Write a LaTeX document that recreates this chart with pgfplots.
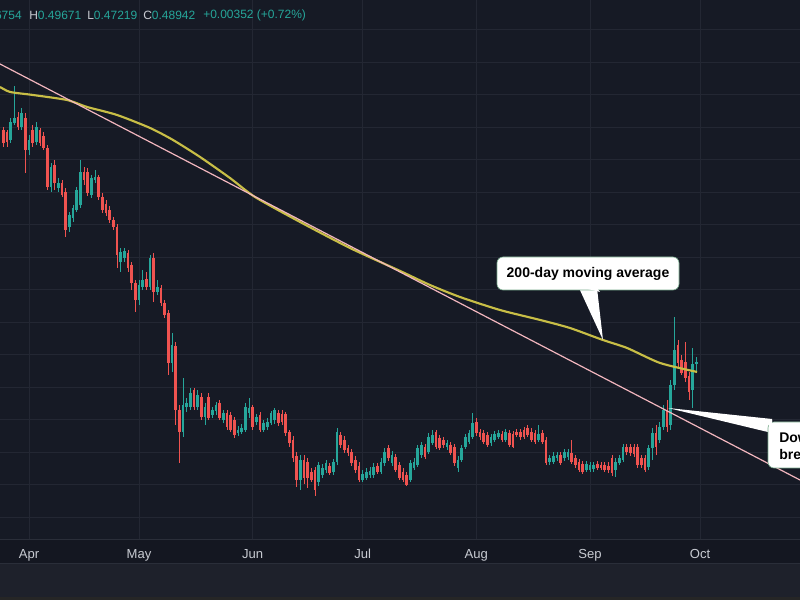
\documentclass[border=0pt]{standalone}
\usepackage{pgfplots}
\pgfplotsset{compat=1.18}
\usepackage{pgfplotstable}
\usepackage{fontspec}
\setmainfont{Liberation Sans}
\definecolor{bgc}{RGB}{22,26,37}
\definecolor{stripc}{RGB}{20,23,33}
\definecolor{panelc}{RGB}{30,33,43}
\definecolor{sepc}{RGB}{42,46,57}
\definecolor{gridc}{RGB}{35,39,51}
\definecolor{upc}{RGB}{38,166,154}
\definecolor{dnc}{RGB}{239,83,80}
\definecolor{mac}{RGB}{200,190,70}
\definecolor{trc}{RGB}{242,182,190}
\definecolor{labc}{RGB}{200,203,210}
\definecolor{calloutb}{RGB}{120,170,140}

\pgfplotstableread{
d o h l c
-7 .846 .851 .820 .826
-6 .843 .846 .820 .828
-5 .831 .865 .826 .858
-4 .857 .914 .854 .865
-3 .866 .874 .846 .851
-2 .851 .880 .846 .872
-1 .865 .872 .780 .815
0 .815 .838 .808 .831
1 .846 .854 .820 .826
2 .828 .858 .823 .851
3 .846 .849 .822 .826
4 .837 .843 .815 .818
5 .818 .823 .754 .758
6 .758 .795 .751 .789
7 .792 .800 .754 .765
8 .757 .772 .751 .765
9 .765 .769 .743 .746
10 .751 .757 .682 .692
11 .697 .720 .689 .715
12 .711 .731 .705 .726
13 .723 .758 .720 .754
14 .731 .800 .726 .782
15 .782 .789 .762 .769
16 .782 .788 .745 .749
17 .746 .777 .742 .772
18 .769 .785 .765 .774
19 .774 .777 .738 .743
20 .743 .749 .718 .723
21 .732 .738 .714 .718
22 .723 .729 .703 .708
23 .708 .712 .692 .697
24 .697 .702 .634 .654
25 .643 .665 .628 .658
26 .649 .665 .643 .660
27 .657 .662 .628 .634
28 .638 .643 .600 .611
29 .611 .615 .566 .585
30 .585 .615 .577 .608
31 .605 .631 .600 .615
32 .617 .628 .600 .605
33 .605 .654 .600 .649
34 .649 .657 .582 .597
35 .597 .615 .592 .605
36 .603 .608 .575 .580
37 .580 .585 .557 .562
38 .565 .569 .469 .488
39 .488 .534 .474 .515
40 .514 .520 .392 .415
41 .415 .423 .334 .382
42 .382 .465 .374 .423
43 .420 .434 .412 .426
44 .420 .449 .415 .442
45 .446 .449 .415 .420
46 .420 .446 .415 .438
47 .435 .442 .400 .405
48 .405 .426 .392 .420
49 .435 .442 .400 .403
50 .408 .420 .403 .415
51 .414 .428 .408 .423
52 .426 .431 .400 .403
53 .400 .415 .395 .411
54 .411 .415 .385 .389
55 .408 .412 .382 .385
56 .400 .405 .372 .377
57 .380 .391 .375 .385
58 .382 .394 .378 .388
59 .385 .426 .382 .420
60 .411 .434 .403 .418
61 .420 .423 .385 .389
62 .397 .409 .392 .405
63 .408 .412 .382 .385
64 .385 .400 .382 .395
65 .389 .403 .385 .397
66 .395 .414 .392 .411
67 .400 .418 .394 .415
68 .411 .415 .391 .395
69 .409 .415 .392 .397
70 .409 .412 .375 .380
71 .382 .385 .358 .365
72 .369 .375 .335 .342
73 .345 .351 .297 .308
74 .308 .346 .292 .338
75 .338 .346 .302 .311
76 .335 .342 .295 .311
77 .320 .326 .305 .308
78 .323 .328 .283 .292
79 .305 .335 .298 .331
80 .315 .332 .311 .326
81 .323 .338 .318 .334
82 .329 .334 .315 .318
83 .320 .340 .315 .335
84 .335 .388 .331 .382
85 .377 .382 .357 .362
86 .369 .375 .349 .354
87 .357 .362 .345 .349
88 .351 .355 .329 .334
89 .338 .345 .318 .323
90 .329 .335 .305 .308
91 .308 .323 .305 .317
92 .311 .326 .308 .320
93 .315 .328 .311 .322
94 .315 .334 .311 .328
95 .329 .334 .317 .320
96 .320 .342 .317 .335
97 .334 .357 .329 .351
98 .357 .362 .337 .342
99 .334 .352 .329 .346
100 .343 .348 .320 .323
101 .331 .335 .308 .311
102 .320 .326 .305 .308
103 .315 .320 .298 .300
104 .308 .338 .305 .334
105 .326 .342 .323 .335
106 .331 .362 .328 .357
107 .346 .366 .342 .362
108 .358 .363 .340 .343
109 .351 .380 .348 .374
110 .365 .385 .362 .377
111 .382 .385 .355 .358
112 .372 .377 .354 .357
113 .369 .374 .357 .362
114 .358 .369 .354 .365
115 .362 .366 .346 .349
116 .358 .363 .329 .334
117 .326 .345 .320 .338
118 .338 .362 .335 .357
119 .358 .378 .355 .374
120 .366 .385 .363 .380
121 .374 .411 .371 .395
122 .397 .403 .375 .380
123 .382 .386 .369 .374
124 .380 .385 .363 .366
125 .377 .382 .358 .362
126 .365 .378 .360 .374
127 .369 .383 .366 .378
128 .374 .385 .371 .380
129 .378 .383 .366 .369
130 .369 .386 .366 .382
131 .380 .385 .358 .362
132 .378 .383 .357 .358
133 .382 .386 .374 .377
134 .382 .386 .369 .374
135 .385 .389 .371 .374
136 .388 .392 .374 .377
137 .382 .388 .366 .369
138 .380 .385 .363 .366
139 .369 .392 .366 .378
140 .380 .385 .363 .366
141 .369 .374 .331 .334
142 .335 .346 .331 .342
143 .335 .351 .332 .345
144 .342 .351 .337 .346
145 .346 .351 .331 .334
146 .342 .355 .337 .351
147 .343 .355 .338 .351
148 .349 .369 .332 .335
149 .342 .346 .326 .331
150 .335 .340 .320 .323
151 .332 .337 .317 .320
152 .323 .337 .320 .332
153 .323 .335 .320 .331
154 .325 .335 .320 .331
155 .332 .337 .323 .326
156 .331 .335 .323 .326
157 .331 .335 .320 .323
158 .329 .335 .318 .323
159 .342 .346 .314 .318
160 .323 .342 .312 .335
161 .334 .346 .331 .342
162 .338 .363 .335 .358
163 .358 .363 .346 .351
164 .358 .363 .345 .349
165 .358 .363 .343 .348
166 .358 .363 .326 .331
167 .342 .346 .326 .331
168 .342 .346 .320 .323
169 .328 .362 .323 .357
170 .357 .388 .338 .380
171 .380 .392 .346 .358
172 .369 .397 .365 .389
173 .389 .423 .385 .415
174 .415 .431 .382 .389
175 .392 .462 .385 .454
176 .454 .558 .446 .508
177 .515 .523 .480 .488
178 .492 .500 .469 .472
179 .489 .520 .458 .465
180 .468 .474 .431 .443
181 .446 .511 .418 .486
182 .4859 .49671 .47219 .48942
}\candles

\begin{document}
\begin{tikzpicture}
\useasboundingbox (0,0) rectangle (600pt,450pt);
\clip (0,0) rectangle (600pt,450pt);
\fill[bgc] (0,0) rectangle (600pt,450pt);
\begin{scope}[x=0.75pt,y=-0.75pt,shift={(0,450pt)}]
  \fill[stripc] (0,539) rectangle (800,564);
  \draw[sepc, line width=0.75pt] (0,539.5) -- (800,539.5);
  \fill[panelc] (0,564) rectangle (800,597);
  \draw[sepc, line width=0.75pt] (0,564) -- (800,564);
  \fill[black!85] (0,597) rectangle (800,600);
\end{scope}
\begin{axis}[
  at={(0pt,45.75pt)}, anchor=south west, scale only axis,
  width=600pt, height=404.25pt,
  xmin=-7.909, xmax=210.27, ymin=0.21692, ymax=1.04615,
  axis line style={draw=none},
  xtick={0,30,61,91,122,153,183},
  xticklabels={Apr,May,Jun,Jul,Aug,Sep,Oct},
  ytick={0.25,0.30,...,1.01}, yticklabels={},
  major tick length=0pt,
  grid=major, grid style={gridc, line width=0.75pt},
  xticklabel style={font=\fontsize{9.8}{11}\selectfont, text=labc, anchor=base, yshift=-14.6pt},
]
% wicks
\addplot[draw=none, mark=none, forget plot, error bars/.cd, y dir=both, y explicit, error mark=none,
  error bar style={draw=upc, line width=0.6pt}]
  table[x=d, y expr={\thisrow{c}>=\thisrow{o} ? (\thisrow{h}+\thisrow{l})/2 : nan},
        y error expr={(\thisrow{h}-\thisrow{l})/2}] {\candles};
\addplot[draw=none, mark=none, forget plot, error bars/.cd, y dir=both, y explicit, error mark=none,
  error bar style={draw=dnc, line width=0.6pt}]
  table[x=d, y expr={\thisrow{c}<\thisrow{o} ? (\thisrow{h}+\thisrow{l})/2 : nan},
        y error expr={(\thisrow{h}-\thisrow{l})/2}] {\candles};
% bodies
\addplot[draw=none, mark=none, forget plot, error bars/.cd, y dir=both, y explicit, error mark=none,
  error bar style={draw=upc, line width=2.05pt}]
  table[x=d, y expr={\thisrow{c}>=\thisrow{o} ? (\thisrow{o}+\thisrow{c})/2 : nan},
        y error expr={max(abs(\thisrow{c}-\thisrow{o})/2,0.0008)}] {\candles};
\addplot[draw=none, mark=none, forget plot, error bars/.cd, y dir=both, y explicit, error mark=none,
  error bar style={draw=dnc, line width=2.05pt}]
  table[x=d, y expr={\thisrow{c}<\thisrow{o} ? (\thisrow{o}+\thisrow{c})/2 : nan},
        y error expr={max(abs(\thisrow{c}-\thisrow{o})/2,0.0008)}] {\candles};
% 200-day moving average
\addplot[mac, line width=1.6pt, smooth, tension=0.4] coordinates {
(-7.91,0.9124)(-5.18,0.9047)(1.09,0.9000)(10.36,0.8923)(15.82,0.8816)(24.0,0.8693)
(33.0,0.8493)(39.27,0.8308)(46.63,0.8047)(54.81,0.7723)(61.63,0.7431)(73.9,0.7047)
(87.54,0.6646)(101.2,0.6293)(109.35,0.6077)(117.5,0.5893)(128.4,0.5693)(139.4,0.5539)
(147.5,0.5416)(156.5,0.5231)(163.1,0.5108)(172.1,0.4877)(182.2,0.4739)};
% downtrend line
\addplot[trc, line width=0.9pt] coordinates {(-7.91,0.9477)(210.27,0.3077)};
\end{axis}
\begin{scope}[x=0.75pt,y=-0.75pt,shift={(0,450pt)}]
  % header
  \node[anchor=east, inner sep=0pt, font=\fontsize{9}{10}\selectfont, text=labc] at (22,15) {O\textcolor{upc}{0.46754}};
  \node[anchor=west, inner sep=0pt, font=\fontsize{9}{10}\selectfont, text=labc] at (29,15) {H\textcolor{upc}{0.49671}};
  \node[anchor=west, inner sep=0pt, font=\fontsize{9}{10}\selectfont, text=labc] at (87,15) {L\textcolor{upc}{0.47219}};
  \node[anchor=west, inner sep=0pt, font=\fontsize{9}{10}\selectfont, text=labc] at (143,15) {C\textcolor{upc}{0.48942}};
  \node[anchor=west, inner sep=0pt, font=\fontsize{9}{10}\selectfont, text=upc] at (203,15) {+0.00352 (+0.72\%)};
  % callout 1
  \fill[white] (579,288) -- (597,288) -- (603,340) -- cycle;
  \filldraw[fill=white, draw=calloutb, line width=0.5pt, rounded corners=4.5pt] (497,257) rectangle (679,290);
  \fill[white] (580,287) -- (596,287) -- (600,292) -- cycle;
  \node[font=\bfseries\fontsize{10.5}{12}\selectfont, text=black, inner sep=0pt] at (588,273.5) {200-day moving average};
  % callout 2
  \fill[white] (668,408) -- (772,419) -- (772,433) -- cycle;
  \filldraw[fill=white, draw=calloutb, line width=0.5pt, rounded corners=4.5pt] (768,422) rectangle (860,468);
  \fill[white] (766,420) -- (772,420) -- (772,432) -- cycle;
  \node[anchor=west, font=\bfseries\fontsize{10.5}{12}\selectfont, text=black, inner sep=0pt] at (779,437) {Downtrend};
  \node[anchor=west, font=\bfseries\fontsize{10.5}{12}\selectfont, text=black, inner sep=0pt] at (779,454) {breakout};
\end{scope}
\end{tikzpicture}
\end{document}
